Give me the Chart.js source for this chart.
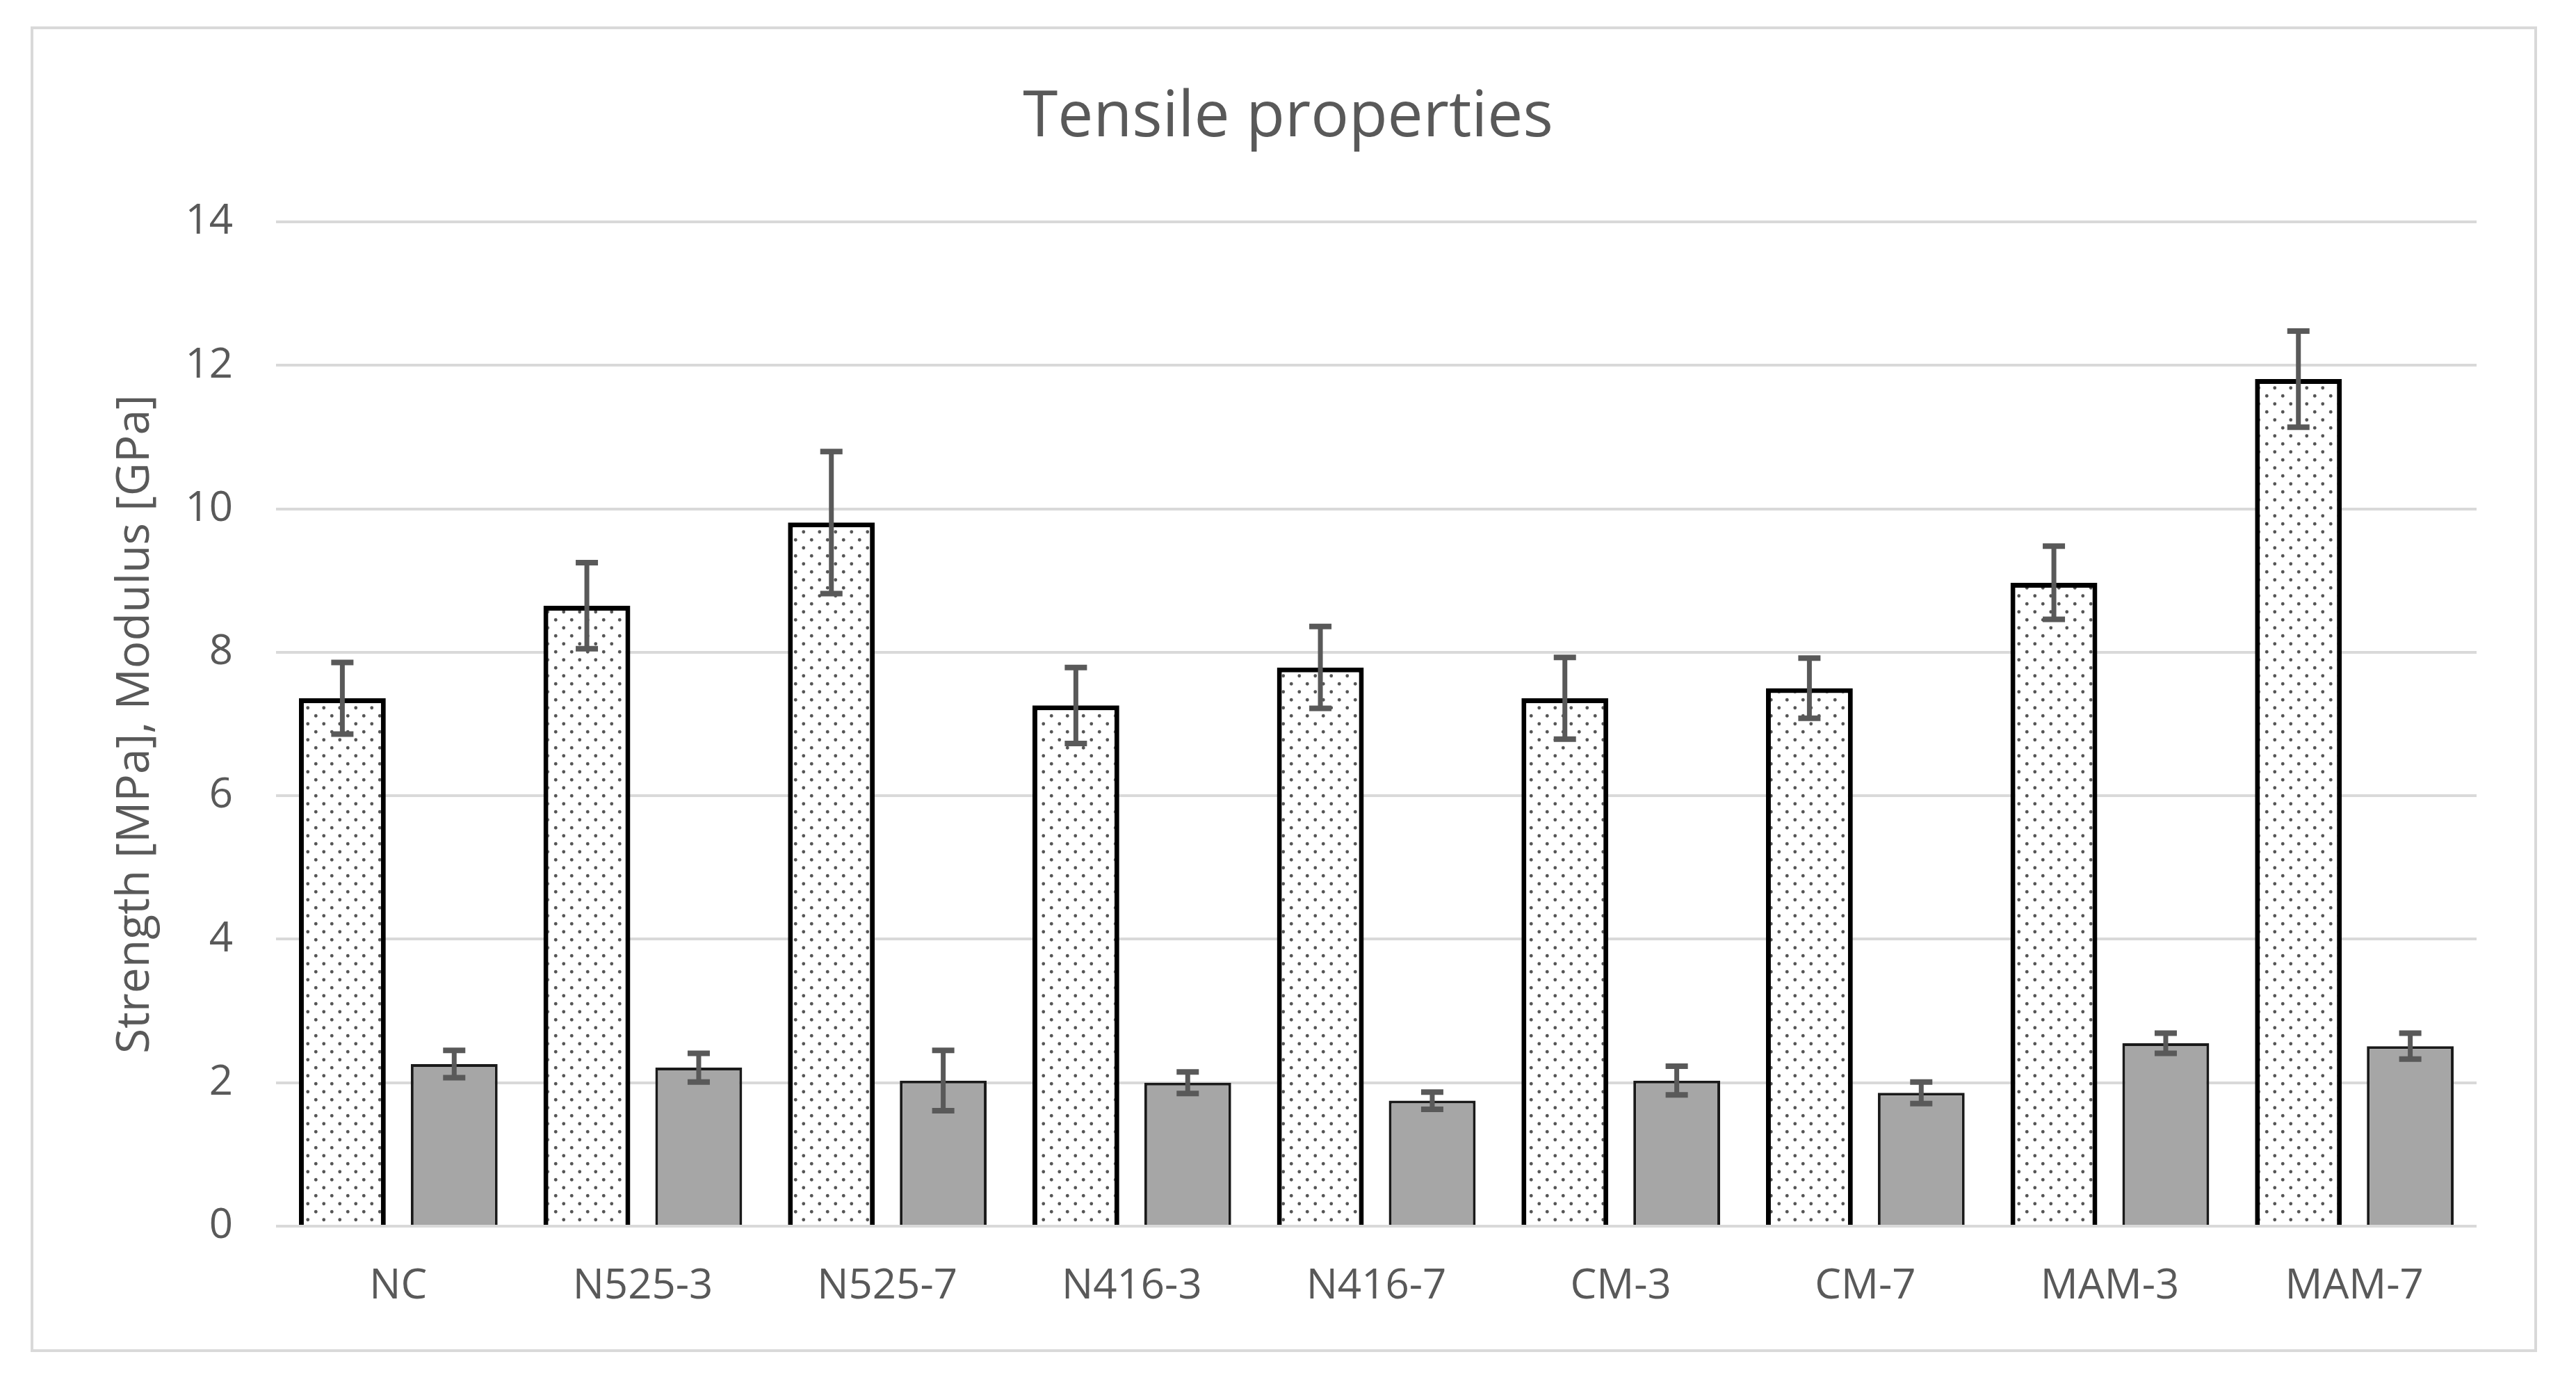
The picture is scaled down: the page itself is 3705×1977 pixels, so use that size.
<!DOCTYPE html>
<html>
<head>
<meta charset="utf-8">
<script src="https://cdn.jsdelivr.net/npm/chart.js@4/dist/chart.umd.min.js"></script>
<style>
  html, body { margin: 0; padding: 0; background: #fff; }
  #wrap { width: 3705px; height: 1977px; }
</style>
</head>
<body>
<div id="wrap"><canvas id="chart" width="3705" height="1977"></canvas></div>
<script>
// data
const categories = ['NC', 'N525-3', 'N525-7', 'N416-3', 'N416-7', 'CM-3', 'CM-7', 'MAM-3', 'MAM-7'];
const strength    = [7.36, 8.65, 9.81, 7.26, 7.79, 7.36, 7.50, 8.97, 11.81];
const strengthErr = [0.50, 0.60, 0.99, 0.53, 0.57, 0.57, 0.42, 0.51, 0.67];
const modulus     = [2.26, 2.21, 2.03, 2.00, 1.75, 2.03, 1.86, 2.55, 2.51];
const modulusErr  = [0.19, 0.20, 0.42, 0.15, 0.12, 0.20, 0.15, 0.14, 0.18];

const FONT = "'Open Sans', 'Noto Sans', sans-serif";
const TEXT = '#595959';
const GRID = '#d9d9d9';

// dotted fill like the excel pattern
function dotPattern () {
  const t = document.createElement('canvas');
  t.width = 23; t.height = 23;
  const c = t.getContext('2d');
  c.fillStyle = '#fff';
  c.fillRect(0, 0, 23, 23);
  c.fillStyle = '#555';
  [[5.75, 5.75], [17.25, 17.25]].forEach(([x, y]) => {
    c.beginPath(); c.arc(x, y, 2.4, 0, Math.PI * 2); c.fill();
  });
  return document.getElementById('chart').getContext('2d').createPattern(t, 'repeat');
}

// white page + light frame round the whole chart
const framePlugin = {
  id: 'frame',
  beforeDraw (chart) {
    const ctx = chart.ctx;
    ctx.save();
    ctx.fillStyle = '#fff';
    ctx.fillRect(0, 0, chart.width, chart.height);
    ctx.strokeStyle = GRID;
    ctx.lineWidth = 4;
    ctx.strokeRect(46, 40, 3601, 1902);
    ctx.restore();
  }
};

// +/- error bars, placed with the y scale
const errorBarPlugin = {
  id: 'errorBars',
  afterDatasetsDraw (chart) {
    const ctx = chart.ctx;
    const y = chart.scales.y;
    ctx.save();
    ctx.strokeStyle = '#595959';
    ctx.lineCap = 'butt';
    chart.data.datasets.forEach((ds, i) => {
      const meta = chart.getDatasetMeta(i);
      meta.data.forEach((bar, j) => {
        const v = ds.data[j], e = ds.errors[j];
        const top = y.getPixelForValue(v + e);
        const bot = y.getPixelForValue(v - e);
        ctx.lineWidth = 7;
        ctx.beginPath(); ctx.moveTo(bar.x, top); ctx.lineTo(bar.x, bot); ctx.stroke();
        ctx.lineWidth = 8;
        ctx.beginPath();
        ctx.moveTo(bar.x - 16, top); ctx.lineTo(bar.x + 16, top);
        ctx.moveTo(bar.x - 16, bot); ctx.lineTo(bar.x + 16, bot);
        ctx.stroke();
      });
    });
    ctx.restore();
  }
};

new Chart(document.getElementById('chart'), {
  type: 'bar',
  data: {
    labels: categories,
    datasets: [{
      label: 'Strength',
      data: strength,
      errors: strengthErr,
      backgroundColor: dotPattern(),
      borderColor: '#000',
      borderWidth: 7
    }, {
      label: 'Modulus',
      data: modulus,
      errors: modulusErr,
      backgroundColor: '#a6a6a6',
      borderColor: '#1a1a1a',
      borderWidth: 4
    }]
  },
  options: {
    responsive: false,
    devicePixelRatio: 1,
    animation: false,
    layout: { padding: { left: 143, right: 143, top: 0, bottom: 0 } },
    datasets: { bar: { categoryPercentage: 0.915, barPercentage: 0.776 } },
    plugins: {
      legend: { display: false },
      tooltip: { enabled: false },
      title: {
        display: true,
        text: 'Tensile properties',
        color: TEXT,
        font: { family: FONT, size: 91, weight: 'normal' },
        padding: { top: 115, bottom: 95 }
      }
    },
    scales: {
      x: {
        grid: { display: false, drawTicks: false },
        border: { display: false },
        ticks: { color: TEXT, font: { family: FONT, size: 60 }, padding: 51 },
        afterFit (s) { s.height = 214; }
      },
      y: {
        min: 0,
        max: 14,
        ticks: { stepSize: 2, color: TEXT, font: { family: FONT, size: 60 }, padding: 62 },
        grid: { color: GRID, lineWidth: 4, drawTicks: false },
        border: { display: false },
        title: {
          display: true,
          text: 'Strength [MPa], Modulus [GPa]',
          color: TEXT,
          font: { family: FONT, size: 66 },
          padding: { top: 13, bottom: 0 }
        },
        afterFit (s) { s.width = 254; }
      }
    }
  },
  plugins: [framePlugin, errorBarPlugin]
});
</script>
</body>
</html>
